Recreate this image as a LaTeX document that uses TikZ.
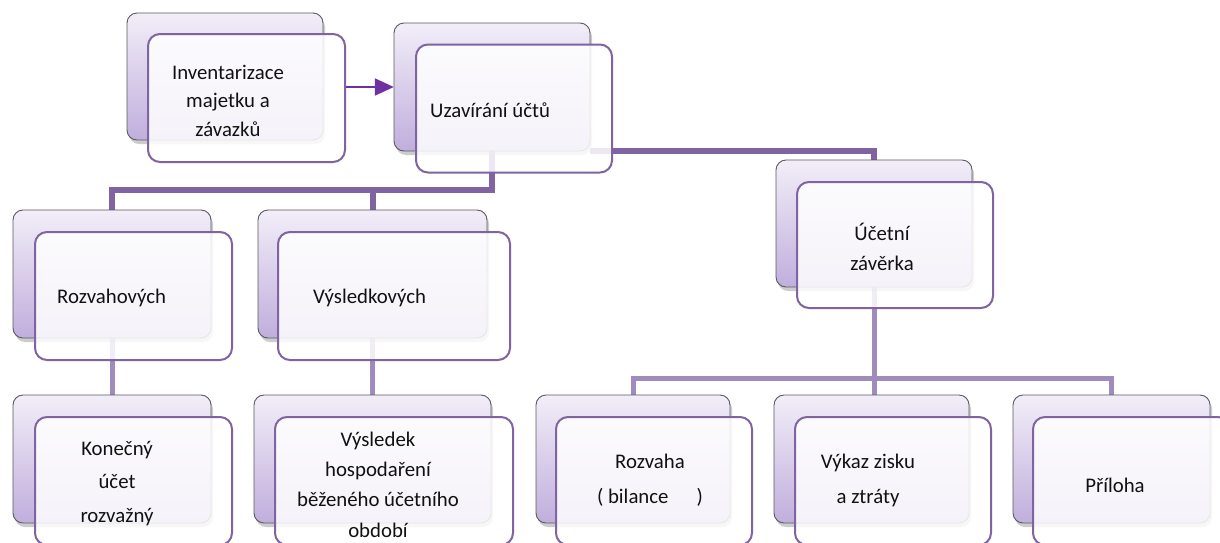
\documentclass[tikz,border=0pt]{standalone}
\usepackage{fontspec}
\setmainfont{Carlito}
\usetikzlibrary{shadows,arrows.meta,calc}
\definecolor{conA}{HTML}{8064A2}
\definecolor{conB}{HTML}{A08BBF}
\definecolor{arr}{HTML}{7030A0}
\definecolor{frame}{HTML}{8064A2}
\definecolor{bord}{HTML}{5A5A5A}
\definecolor{topc}{HTML}{F2EEF8}
\definecolor{botc}{HTML}{C0AEDD}
\definecolor{txt}{HTML}{111111}
\tikzset{
  backbox/.style={rectangle, rounded corners=10pt, draw=bord, line width=0.9pt,
    top color=topc, bottom color=botc,
    drop shadow={shadow xshift=2pt, shadow yshift=-4pt, opacity=0.4},
    minimum height=128pt, inner sep=0pt},
  frontbox/.style={rectangle, rounded corners=12pt, draw=frame, line width=2pt,
    fill=white, fill opacity=0.85, minimum height=128pt, inner sep=0pt},
  lbl/.style={text=txt, font=\fontsize{20.8}{28}\selectfont, inner sep=0pt, align=center},
  conn/.style={draw=conA, line width=6pt},
  connb/.style={draw=conB, line width=5pt},
  arrow/.style={draw=arr, line width=2pt, -{Triangle[length=19pt,width=17pt]}},
}
\begin{document}
\begin{tikzpicture}[x=1pt,y=-1pt]
\useasboundingbox (0,0) rectangle (1220,542);
\clip (0,0) rectangle (1220,542);
\fill[white] (0,0) rectangle (1220,542);

% junctions
\coordinate (j1) at (492,190);
\coordinate (j2) at (874,378);

% box placeholders (for connector anchors)
\path
  node[minimum width=196pt, minimum height=127pt, inner sep=0pt] (invp) at (225,76.5) {}
  node[minimum width=196pt, minimum height=128pt, inner sep=0pt] (uzb) at (492,87) {}
  node[minimum width=198pt, minimum height=128pt, inner sep=0pt] (rzb) at (112,274) {}
  node[minimum width=229pt, minimum height=128pt, inner sep=0pt] (vsb) at (372.5,274) {}
  node[minimum width=196pt, minimum height=127pt, inner sep=0pt] (ucb) at (874,223.5) {}
  node[minimum width=198pt, minimum height=128pt, inner sep=0pt] (kob) at (112,459) {}
  node[minimum width=237pt, minimum height=128pt, inner sep=0pt] (vyb) at (372.5,459) {}
  node[minimum width=194pt, minimum height=128pt, inner sep=0pt] (rob) at (633,459) {}
  node[minimum width=195pt, minimum height=128pt, inner sep=0pt] (vkb) at (871.5,459) {}
  node[minimum width=197pt, minimum height=128pt, inner sep=0pt] (prb) at (1111.5,459) {};

% connectors
\draw[conn] (uzb.south) -- (j1) -| (rzb.north);
\draw[conn] (j1) -| (vsb.north);
\draw[conn] (uzb.south east) -| (ucb.north);
\draw[connb] (ucb.south) -- (j2) -| (rob.north);
\draw[connb] (j2) -| (prb.north);
\draw[connb] (j2) -- (j2 |- vkb.north);
\draw[connb] (rzb.south) -- (kob.north);
\draw[connb] (vsb.south) -- (vyb.north);

% back boxes
\node[backbox, minimum width=196pt, minimum height=127pt] (invb) at (invp) {};
\node[backbox, minimum width=196pt] (uzbb) at (uzb) {};
\node[backbox, minimum width=198pt] (rzbb) at (rzb) {};
\node[backbox, minimum width=229pt] (vsbb) at (vsb) {};
\node[backbox, minimum width=196pt, minimum height=127pt] (ucbb) at (ucb) {};
\node[backbox, minimum width=198pt] (kobb) at (kob) {};
\node[backbox, minimum width=237pt] (vybb) at (vyb) {};
\node[backbox, minimum width=194pt] (robb) at (rob) {};
\node[backbox, minimum width=195pt] (vkbb) at (vkb) {};
\node[backbox, minimum width=197pt] (prbb) at (prb) {};

% front boxes
\node[frontbox, minimum width=197pt] (invf) at (246.5,98) {};
\node[frontbox, minimum width=196pt] (uzf) at (514,108.5) {};
\node[frontbox, minimum width=197pt] (rzf) at (133.5,296) {};
\node[frontbox, minimum width=232pt] (vsf) at (394,296) {};
\node[frontbox, minimum width=196pt, minimum height=126pt] (ucf) at (895,245) {};
\node[frontbox, minimum width=197pt] (kof) at (133.5,481) {};
\node[frontbox, minimum width=238pt] (vyf) at (394,481) {};
\node[frontbox, minimum width=196pt] (rof) at (654,481) {};
\node[frontbox, minimum width=196pt] (vkf) at (893,481) {};
\node[frontbox, minimum width=197pt] (prf) at (1131.5,481) {};

% arrow
\draw[arrow] (invf.east |- uzb.west) -- (uzb.west);

% labels
\node[lbl, font=\fontsize{20.8}{28.5}\selectfont] (tinv) at (228,100.5) {Inventarizace\\majetku a\\závazků};
\node[lbl, anchor=west] (tuz) at (430,110) {Uzavírání účtů};
\node[lbl, anchor=west] (trz) at (57,298) {Rozvahových};
\node[lbl, anchor=west] (tvs) at (313,298) {Výsledkových};
\node[lbl, font=\fontsize{20.8}{30}\selectfont] (tuc) at (882,247) {Účetní\\závěrka};
\node[lbl, font=\fontsize{20.8}{33.5}\selectfont] (tko) at (117,483.5) {Konečný\\účet\\rozvažný};
\node[lbl, font=\fontsize{20.8}{30.3}\selectfont] (tvy) at (378,484.5) {Výsledek\\hospodaření\\běženého účetního\\období};
\node[lbl, font=\fontsize{20.8}{35}\selectfont] (tro) at (650,480.5) {Rozvaha\\( bilance\hspace{1.35em})};
\node[lbl, font=\fontsize{20.8}{35}\selectfont] (tvk) at (868,480.5) {Výkaz zisku\\a ztráty};
\node[lbl] (tpr) at (1115,485) {Příloha};
\end{tikzpicture}
\end{document}
